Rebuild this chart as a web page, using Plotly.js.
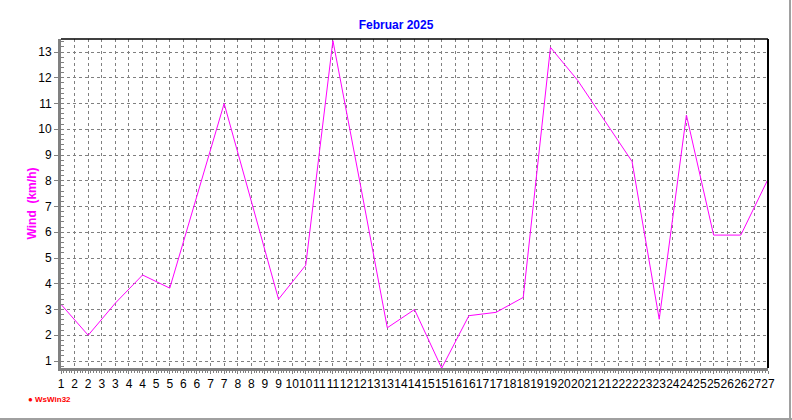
<!DOCTYPE html>
<html>
<head>
<meta charset="utf-8">
<script src="https://cdn.plot.ly/plotly-3.0.1.min.js"></script>
<style>
  html, body { margin: 0; padding: 0; background: #ffffff; }
  #wrap { position: relative; width: 792px; height: 420px; overflow: hidden; }
  #chart { position: absolute; left: 0; top: 0; width: 792px; height: 420px; }
  .frameR { position: absolute; left: 789px; top: 0; width: 2px; height: 420px; background: #a0a0a0; }
  .frameB { position: absolute; left: 0; top: 418px; width: 792px; height: 2px; background: #a0a0a0; }
</style>
</head>
<body>
<div id="wrap">
  <div id="chart"></div>
  <div class="frameR"></div>
  <div class="frameB"></div>
</div>
<script>
// ---- data ----
const days = [1,2,3,4,5,6,7,8,9,10,11,12,13,14,15,16,17,18,19,20,21,22,23,24,25,26,27];
const wind = [3.2, 2.0, 3.25, 4.34, 3.83, 7.4, 11.0, 7.2, 3.4, 4.72, 13.44, 7.9, 2.29, 3.0, 0.72, 2.76, 2.89, 3.47, 13.18, 11.9, 10.33, 8.75, 2.62, 10.55, 5.89, 5.89, 8.06];
const xTickLabels = ["1","2","2","3","3","4","4","5","5","6","6","7","7","8","8","9","9","10","10","11","11","12","12","13","13","14","14","15","15","16","16","17","17","18","18","19","19","20","20","21","21","22","22","23","23","24","24","25","25","26","26","27","27"];
const yTickLabels = ["1","2","3","4","5","6","7","8","9","10","11","12","13"];
const chartTitle = "Februar 2025";
const yTitle = "Wind&nbsp;&nbsp;(km/h)";
const watermark = "● WsWin32";

// ---- chart ----
const xTickVals = xTickLabels.map((_, i) => days[0] + i * 0.5);
const yTickVals = yTickLabels.map(Number);
const FONT = "Arial, 'Liberation Sans', sans-serif";

const trace = {
  x: days,
  y: wind,
  type: 'scatter',
  mode: 'lines',
  line: { color: '#ff00ff', width: 1 },
  hoverinfo: 'skip',
  cliponaxis: false
};

const layout = {
  width: 792,
  height: 420,
  margin: { l: 61, r: 24, t: 39, b: 52 },
  paper_bgcolor: '#ffffff',
  plot_bgcolor: '#ffffff',
  showlegend: false,
  font: { family: FONT, size: 12, color: '#000000' },
  title: {
    text: '<b>' + chartTitle + '</b>',
    font: { family: FONT, size: 12, color: '#0000ff' },
    x: 0.5, xref: 'container', xanchor: 'center',
    y: 1 - 25 / 420, yref: 'container', yanchor: 'middle'
  },
  xaxis: {
    range: [1, 27],
    tickmode: 'array',
    tickvals: xTickVals,
    ticktext: xTickLabels,
    tickangle: 0,
    ticks: 'outside', ticklen: 3, tickcolor: '#808080', tickwidth: 1,
    tickfont: { family: FONT, size: 12, color: '#000000' },
    showgrid: true, gridcolor: '#808080', gridwidth: 1, griddash: '3px,3px',
    showline: true, linecolor: '#808080', linewidth: 3,
    zeroline: false,
    minor: { dtick: 0.1, ticks: 'outside', ticklen: 2, tickcolor: '#808080', showgrid: false },
    fixedrange: true
  },
  yaxis: {
    range: [0.728, 13.505],
    tickmode: 'array',
    tickvals: yTickVals,
    ticktext: yTickLabels,
    ticks: 'outside', ticklen: 4, tickcolor: '#808080', tickwidth: 1,
    tickfont: { family: FONT, size: 12, color: '#000000' },
    showgrid: true, gridcolor: '#808080', gridwidth: 1, griddash: '3px,3px',
    showline: true, linecolor: '#808080', linewidth: 3,
    zeroline: false,
    minor: { dtick: 0.2, ticks: 'inside', ticklen: 3, tickcolor: '#808080', showgrid: false },
    title: {
      text: '<b>' + yTitle + '</b>',
      font: { family: FONT, size: 12, color: '#ff00ff' },
      standoff: 0
    },
    automargin: false,
    fixedrange: true
  },
  shapes: [
    { type: 'line', xref: 'paper', yref: 'paper', x0: 0, x1: 1, y0: 1, y1: 1, line: { color: '#000000', width: 1.5 } },
    { type: 'line', xref: 'paper', yref: 'paper', x0: 1, x1: 1, y0: 0, y1: 1, line: { color: '#000000', width: 2 } }
  ],
  annotations: [
    {
      text: '<b>' + watermark + '</b>',
      xref: 'paper', yref: 'paper',
      x: -35 / 707, y: -31 / 329,
      xanchor: 'left', yanchor: 'middle',
      showarrow: false,
      font: { family: FONT, size: 8, color: '#ff0000' }
    }
  ]
};

Plotly.newPlot('chart', [trace], layout, { displayModeBar: false, staticPlot: true });
</script>
</body>
</html>
